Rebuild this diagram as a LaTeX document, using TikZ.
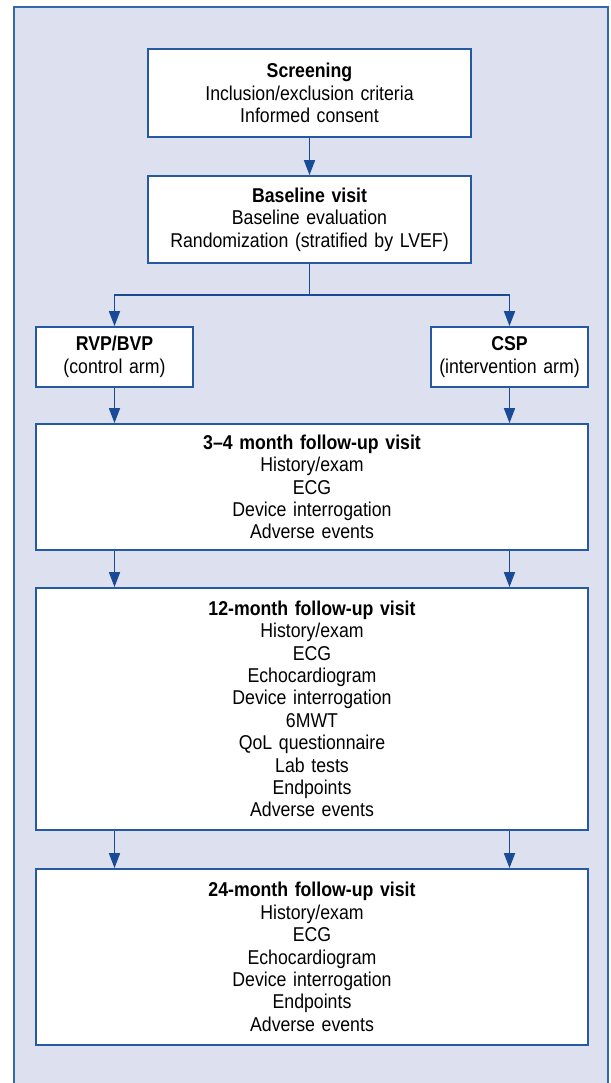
\documentclass[tikz,border=0pt]{standalone}
\usepackage{fontspec}
\setmainfont{Liberation Sans}[FakeStretch=0.885]
\usetikzlibrary{arrows.meta}
\definecolor{bgfill}{RGB}{220,224,239}
\definecolor{frameblue}{RGB}{52,104,172}
\definecolor{boxblue}{RGB}{38,90,160}
\definecolor{arrblue}{RGB}{24,74,150}
\tikzset{
  stagebox/.style={draw=boxblue, line width=1.8pt, fill=white, inner sep=0pt,
    align=center, font=\fontsize{20}{22.4}\selectfont},
  arr/.style={draw=arrblue, line width=1.7pt, -{Triangle[length=15pt,width=11pt]}},
  plainline/.style={draw=arrblue, line width=1.7pt}
}
\begin{document}
\begin{tikzpicture}[x=1pt,y=-1pt]
\useasboundingbox (0,0) rectangle (610,1083);
\fill[bgfill] (14,7) rectangle (608,1083);
\draw[frameblue, line width=1.6pt] (14,1083) -- (14,7) -- (608,7) -- (608,1083);

\node[stagebox, minimum width=323pt, minimum height=88pt, text width=320pt] (scr) at (309.5,93)
  {\textbf{Screening}\\Inclusion/exclusion criteria\\Informed consent};
\node[stagebox, minimum width=323pt, minimum height=87pt, text width=320pt] (base) at (309.5,219.5)
  {\textbf{Baseline visit}\\Baseline evaluation\\Randomization (stratified by LVEF)};
\node[stagebox, minimum width=157pt, minimum height=60pt, text width=155pt] (rvp) at (114.5,357)
  {\textbf{RVP/BVP}\\(control arm)};
\node[stagebox, minimum width=157pt, minimum height=60pt, text width=155pt] (csp) at (509.5,357)
  {\textbf{CSP}\\(intervention arm)};
\node[stagebox, minimum width=552pt, minimum height=126pt, text width=540pt] (m34) at (312,487)
  {\textbf{3–4 month follow-up visit}\\History/exam\\ECG\\Device interrogation\\Adverse events};
\node[stagebox, minimum width=552pt, minimum height=242pt, text width=540pt] (m12) at (312,709)
  {\textbf{12-month follow-up visit}\\History/exam\\ECG\\Echocardiogram\\Device interrogation\\6MWT\\QoL questionnaire\\Lab tests\\Endpoints\\Adverse events};
\node[stagebox, minimum width=552pt, minimum height=176pt, text width=540pt] (m24) at (312,957)
  {\textbf{24-month follow-up visit}\\History/exam\\ECG\\Echocardiogram\\Device interrogation\\Endpoints\\Adverse events};

\coordinate (split) at (309.5,295);
\draw[arr] (scr.south) -- (base.north);
\draw[plainline] (base.south) -- (split);
\draw[arr] (split) -| (rvp.north);
\draw[arr] (split) -| (csp.north);
\draw[arr] (rvp.south) -- (rvp.south |- m34.north);
\draw[arr] (csp.south) -- (csp.south |- m34.north);
\draw[arr] (m34.south -| rvp.south) -- (m12.north -| rvp.south);
\draw[arr] (m34.south -| csp.south) -- (m12.north -| csp.south);
\draw[arr] (m12.south -| rvp.south) -- (m24.north -| rvp.south);
\draw[arr] (m12.south -| csp.south) -- (m24.north -| csp.south);
\end{tikzpicture}
\end{document}
